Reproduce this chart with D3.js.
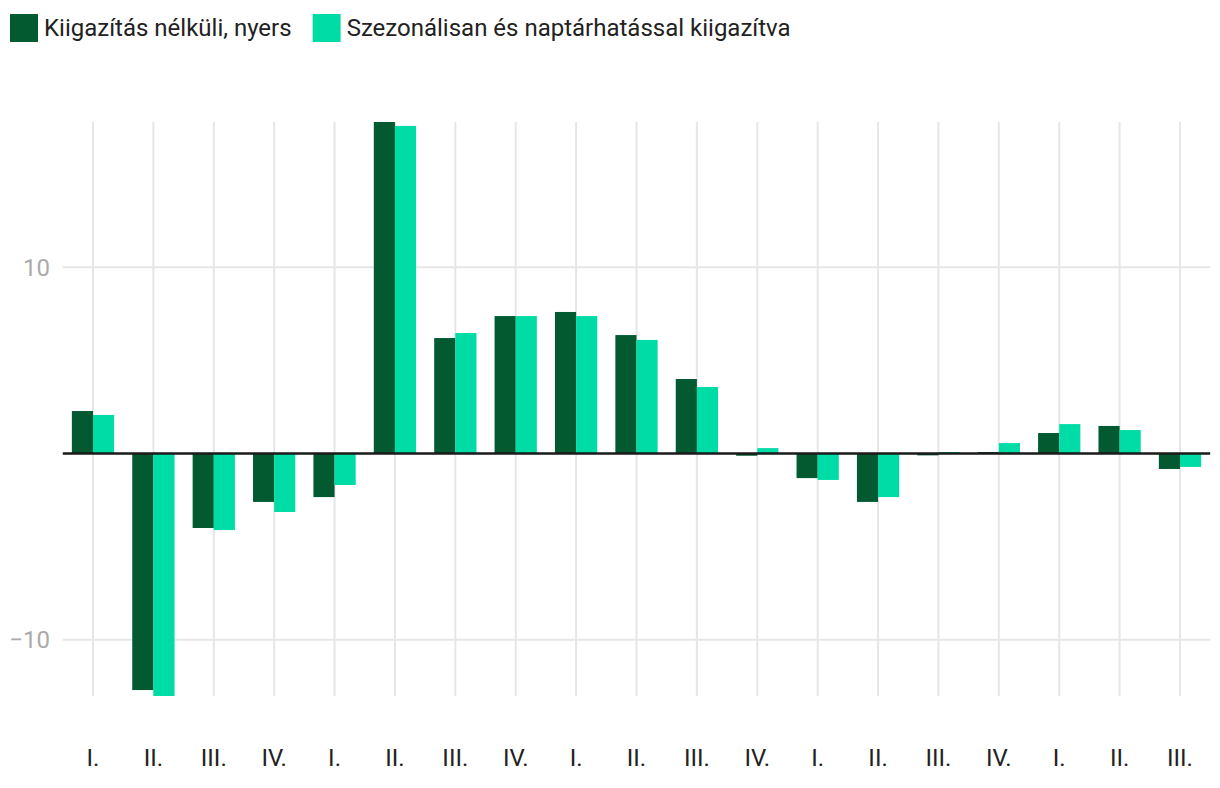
<!DOCTYPE html>
<html><head><meta charset="utf-8">
<script src="https://cdn.jsdelivr.net/npm/d3@7"></script>
<style>
html,body{margin:0;padding:0;background:#fff;}
svg{display:block;font-family:Roboto, "Noto Sans", sans-serif;}
</style></head>
<body>
<svg id="chart" width="1220" height="788"></svg>
<script>
const categories = ["I.","II.","III.","IV.","I.","II.","III.","IV.","I.","II.","III.","IV.","I.","II.","III.","IV.","I.","II.","III."];
const seriesNames = ["Kiigazítás nélküli, nyers","Szezonálisan és naptárhatással kiigazítva"];
const rawValues = [2.28,-12.7,-4.0,-2.6,-2.34,17.8,6.2,7.38,7.6,6.36,4.0,-0.12,-1.32,-2.6,-0.1,0.08,1.1,1.48,-0.83];
const adjValues = [2.07,-13.02,-4.11,-3.14,-1.69,17.59,6.47,7.38,7.38,6.1,3.57,0.29,-1.42,-2.34,0.08,0.56,1.58,1.26,-0.72];
const yTicks = [-10, 10];
const colors = ["#035a31","#00dca6"];

const svg = d3.select("#chart");
const margin = {left:62.8, right:9.8, top:122, bottom:92};
const W = 1220, H = 788;

const idx = categories.map((c,i)=>i);
const x = d3.scaleBand().domain(idx).range([margin.left, W-margin.right]).paddingInner(0.3).paddingOuter(0.15);
const x1 = d3.scaleBand().domain([0,1]).range([0, x.bandwidth()]);
const allVals = rawValues.concat(adjValues);
const y = d3.scaleLinear().domain(d3.extent(allVals)).range([H-margin.bottom, margin.top]);

// horizontal gridlines
svg.append("g").selectAll("line").data(yTicks).join("line")
  .attr("x1", margin.left).attr("x2", W-margin.right)
  .attr("y1", d=>y(d)).attr("y2", d=>y(d))
  .attr("stroke","#e6e6e6").attr("stroke-width",2);

// vertical gridlines
svg.append("g").selectAll("line").data(idx).join("line")
  .attr("x1", d=>x(d)+x.bandwidth()/2).attr("x2", d=>x(d)+x.bandwidth()/2)
  .attr("y1", y.range()[1]).attr("y2", y.range()[0])
  .attr("stroke","#e6e6e6").attr("stroke-width",2);

// y tick labels
svg.append("g").selectAll("text").data(yTicks).join("text")
  .attr("x", 50).attr("y", d=>y(d)).attr("dy","0.35em")
  .attr("text-anchor","end").attr("fill","#aaaaaa").attr("font-size",24)
  .text(d=> d<0 ? "\u2212"+Math.abs(d) : String(d));

// bars
const series = [rawValues, adjValues];
series.forEach((vals, s)=>{
  svg.append("g").selectAll("rect").data(vals).join("rect")
    .attr("x", (d,i)=>x(i)+x1(s))
    .attr("width", x1.bandwidth())
    .attr("y", d=>y(Math.max(0,d)))
    .attr("height", d=>Math.abs(y(d)-y(0)))
    .attr("fill", colors[s]);
});

// zero line
svg.append("line")
  .attr("x1", margin.left).attr("x2", W-margin.right)
  .attr("y1", y(0)).attr("y2", y(0))
  .attr("stroke","#1a1a1a").attr("stroke-width",2.5);

// x labels
svg.append("g").selectAll("text").data(idx).join("text")
  .attr("x", d=>x(d)+x.bandwidth()/2).attr("y", 766)
  .attr("text-anchor","middle").attr("fill","#222").attr("font-size",24)
  .text(d=>categories[d]);

// legend
const leg = svg.append("g");
let lx = 10;
seriesNames.forEach((n,i)=>{
  const g = leg.append("g").attr("transform",`translate(${lx},14)`);
  g.append("rect").attr("width",28).attr("height",28).attr("fill",colors[i]);
  const t = g.append("text").attr("x",34).attr("y",14).attr("dy","0.35em")
    .attr("font-size",24).attr("fill","#222").text(n);
  lx += 34 + t.node().getComputedTextLength() + 21;
});
</script>
</body></html>
